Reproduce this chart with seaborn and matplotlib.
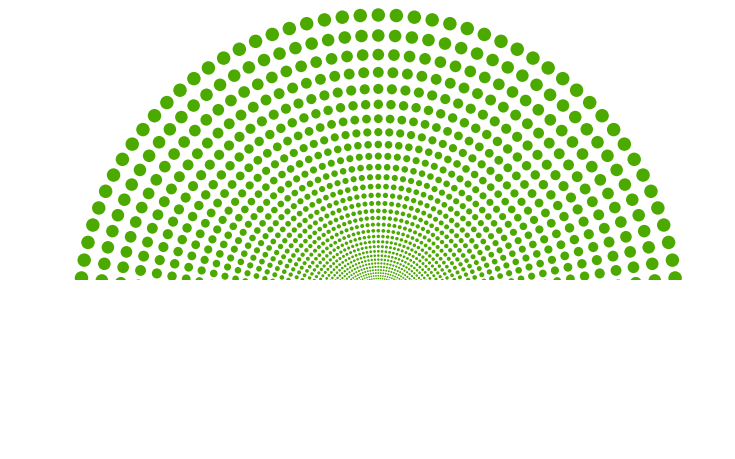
import numpy as np
import pandas as pd
import matplotlib
matplotlib.use("Agg")
import matplotlib.pyplot as plt
import seaborn as sns

# Ring radii (in pixel-like units from the common centre)
ring_radii = [299.0, 278.5, 259.4, 241.7, 225.1, 209.7, 195.3, 181.9, 169.5,
              157.9, 147.0, 137.0, 127.6, 118.8, 110.7, 103.1, 96.1, 89.5,
              83.3, 77.6, 72.3, 67.4, 62.7, 58.4, 54.4, 50.7, 47.2, 44.0,
              41.0, 38.2, 35.5, 33.1]

# Spoke angles in degrees (upper half of the circle)
spoke_angles = [0.0, 3.46, 6.92, 10.38, 13.85, 17.31, 20.77, 24.23, 27.69,
                31.15, 34.62, 38.08, 41.54, 45.0, 48.46, 51.92, 55.38, 58.85,
                62.31, 65.77, 69.23, 72.69, 76.15, 79.62, 83.08, 86.54, 90.0,
                93.46, 96.92, 100.38, 103.85, 107.31, 110.77, 114.23, 117.69,
                121.15, 124.62, 128.08, 131.54, 135.0, 138.46, 141.92, 145.38,
                148.85, 152.31, 155.77, 159.23, 162.69, 166.15, 169.62, 173.08,
                176.54, 180.0]

rows = []
for r in ring_radii:
    for a in spoke_angles:
        rows.append({"radius": r, "angle": a})
df = pd.DataFrame(rows)
theta = np.deg2rad(df["angle"].to_numpy())
df["x"] = df["radius"] * np.cos(theta)
df["y"] = df["radius"] * np.sin(theta)

W, H, DPI = 735, 459, 100
fig = plt.figure(figsize=(W / DPI, H / DPI), dpi=DPI, facecolor="white")
clip_px = 279.5
ax = fig.add_axes([0, 1 - clip_px / H, 1, clip_px / H])

cx, cy_top = 378.3, 314.0  # centre: x pixel, distance of centre below the top edge
diam_px = 0.045 * df["radius"].to_numpy()
areas = (diam_px * 72.0 / DPI) ** 2

sns.scatterplot(data=df, x="x", y="y", s=areas, color="#4ba900",
                linewidth=0, ax=ax, legend=False)

ax.set_xlim(-cx, W - cx)
ax.set_ylim(cy_top - clip_px, cy_top)
ax.set_axis_off()

fig.savefig("out.png", dpi=DPI, facecolor="white")
